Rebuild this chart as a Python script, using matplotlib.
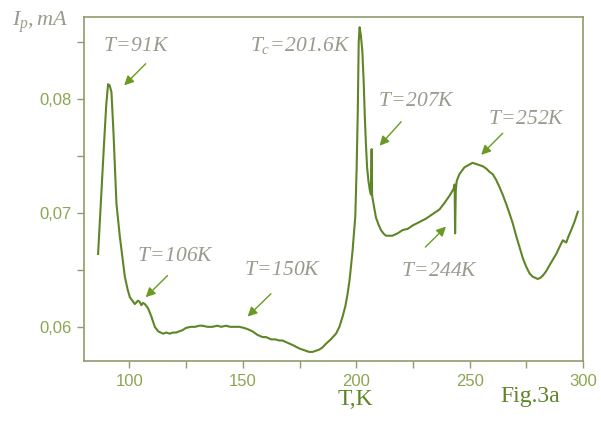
import numpy as np
import matplotlib.pyplot as plt
from matplotlib.ticker import FixedLocator, FuncFormatter

# Temperature (K) and peak current (mA), ten points per row
temp = [86.2, 87.5, 88.8, 89.8, 90.6, 91.3, 92.1, 93.0, 94.3, 95.8,
        97.0, 98.0, 99.2, 100.2, 101.3, 102.4, 103.8, 104.5, 105.3, 106.0,
        106.8, 107.6, 108.3, 109.7, 111.2, 112.7, 114.9, 116.3, 117.8, 119.2,
        120.7, 121.9, 123.4, 124.9, 127.0, 129.0, 130.8, 132.2, 134.4, 136.6,
        138.8, 140.5, 142.5, 144.5, 146.5, 148.5, 150.6, 152.1, 154.3, 156.4,
        158.7, 160.2, 162.5, 164.3, 166.1, 167.5, 169.8, 172.0, 174.9, 176.3,
        177.8, 179.2, 180.8, 182.3, 183.7, 185.2, 186.6, 188.8, 191.1, 192.6,
        194.0, 195.2, 196.2, 197.0, 197.7, 198.4, 199.0, 199.6, 200.2, 200.7,
        201.1, 201.5, 202.1, 202.7, 203.3, 203.8, 204.3, 204.8, 205.4, 206.0,
        206.5, 206.8, 207.0, 207.2, 207.9, 208.7, 209.8, 210.9, 212.0, 213.1,
        214.5, 216.0, 218.2, 220.5, 222.7, 224.9, 227.8, 230.8, 233.7, 236.7,
        239.0, 241.1, 242.9, 243.4, 243.6, 243.9, 244.3, 245.5, 246.6, 247.7,
        249.5, 251.3, 252.8, 254.3, 255.8, 257.3, 258.8, 260.2, 261.7, 263.1,
        264.6, 266.1, 267.5, 269.0, 270.5, 272.0, 273.5, 274.9, 276.4, 277.8,
        279.0, 280.0, 281.2, 282.3, 283.8, 285.2, 286.7, 288.2, 289.6, 291.1,
        292.6, 293.7, 294.8, 296.2, 297.7]
current = [0.0664, 0.0712, 0.0760, 0.0795, 0.0813, 0.0812, 0.0806, 0.0770, 0.0708, 0.0679,
           0.0660, 0.0644, 0.0633, 0.0626, 0.0623, 0.0620, 0.0623, 0.0622, 0.0619, 0.0621,
           0.0620, 0.0618, 0.0616, 0.0609, 0.0600, 0.0596, 0.0594, 0.0595, 0.0594, 0.0595,
           0.0595, 0.0596, 0.0597, 0.0599, 0.0600, 0.0600, 0.0601, 0.0601, 0.0600, 0.0600,
           0.0601, 0.0600, 0.0601, 0.0600, 0.0600, 0.0600, 0.0599, 0.0598, 0.0596, 0.0593,
           0.0591, 0.0591, 0.0589, 0.0589, 0.0588, 0.0588, 0.0586, 0.0584, 0.0581, 0.0580,
           0.0579, 0.0578, 0.0578, 0.0579, 0.0580, 0.0582, 0.0585, 0.0589, 0.0594, 0.0600,
           0.0609, 0.0618, 0.0629, 0.0640, 0.0653, 0.0667, 0.0682, 0.0697, 0.0740, 0.0790,
           0.0850, 0.0863, 0.0855, 0.0842, 0.0815, 0.0784, 0.0760, 0.0740, 0.0728, 0.0720,
           0.0716, 0.0756, 0.0716, 0.0713, 0.0705, 0.0696, 0.0690, 0.0685, 0.0682, 0.0680,
           0.0680, 0.0680, 0.0682, 0.0685, 0.0686, 0.0689, 0.0692, 0.0695, 0.0699, 0.0703,
           0.0709, 0.0715, 0.0721, 0.0725, 0.0682, 0.0720, 0.0728, 0.0734, 0.0737, 0.0740,
           0.0742, 0.0744, 0.0743, 0.0742, 0.0741, 0.0739, 0.0736, 0.0734, 0.0729, 0.0723,
           0.0716, 0.0708, 0.0700, 0.0691, 0.0680, 0.0670, 0.0660, 0.0653, 0.0647, 0.0644,
           0.0643, 0.0642, 0.0643, 0.0645, 0.0649, 0.0654, 0.0659, 0.0664, 0.0670, 0.0676,
           0.0674, 0.0680, 0.0685, 0.0692, 0.0701]

# Labels: text, label position, arrow tail and head (None -> plain text)
ann_text = [r'$T\!=\!91K$', r'$T_c\!=\!201.6K$', r'$T\!=\!207K$', r'$T\!=\!252K$',
            r'$T\!=\!106K$', r'$T\!=\!150K$', r'$T\!=\!244K$']
ann_pos = [(102.9, 0.0847), (175.5, 0.0847), (226.4, 0.0799), (274.9, 0.0783),
           (120.5, 0.0663), (167.5, 0.0651), (236.7, 0.0650)]
ann_tail = [(107.2, 0.0831), None, (219.8, 0.0780), (264.6, 0.0770),
            (116.8, 0.0645), (162.4, 0.0629), (230.5, 0.0670)]
ann_head = [(97.7, 0.0812), None, (210.3, 0.0759), (255.1, 0.0751),
            (107.2, 0.0626), (152.1, 0.0609), (239.6, 0.0688)]

x_ticks = [100, 150, 200, 250, 300]
y_ticks = [0.06, 0.07, 0.08]

LINE_C = '#5f8527'
AXIS_C = '#8f9c6c'
TICK_C = '#8aa650'
TEXT_C = '#9a9b8c'
ARROW_C = '#6b9a22'

# all math labels are set in italic serif, digits included
plt.rcParams['mathtext.fontset'] = 'custom'
plt.rcParams['mathtext.it'] = 'Liberation Serif:italic'
plt.rcParams['mathtext.rm'] = 'Liberation Serif:italic'

fig = plt.figure(figsize=(6.01, 4.21), dpi=100)
ax = fig.add_axes([0.1398, 0.1425, 0.8303, 0.8171])

ax.plot(temp, current, color=LINE_C, lw=1.5)

ax.set_xlim(80, 300)
ax.set_ylim(0.057, 0.0872)

ax.xaxis.set_major_locator(FixedLocator(x_ticks))
ax.xaxis.set_minor_locator(FixedLocator([125, 175, 225, 275]))
ax.yaxis.set_major_locator(FixedLocator(y_ticks))
ax.yaxis.set_minor_locator(FixedLocator([0.065, 0.075, 0.085]))
ax.yaxis.set_major_formatter(FuncFormatter(lambda v, p: f'{v:.2f}'.replace('.', ',')))

for s in ax.spines.values():
    s.set_color(AXIS_C)
    s.set_linewidth(1.2)
ax.tick_params(which='both', direction='out', color=AXIS_C, width=1.0)
ax.tick_params(which='major', length=5, labelsize=12, labelcolor=TICK_C, pad=4)
ax.tick_params(which='minor', length=5)
for lab in ax.get_xticklabels() + ax.get_yticklabels():
    lab.set_family('Liberation Sans')

for txt, pos, tail, head in zip(ann_text, ann_pos, ann_tail, ann_head):
    ax.text(pos[0], pos[1], txt, color=TEXT_C, fontsize=15.5, ha='center', va='center')
    if tail is not None:
        ax.annotate('', xy=head, xytext=tail,
                    arrowprops=dict(arrowstyle='-|>', color=ARROW_C, lw=1.0,
                                    mutation_scale=14, shrinkA=0, shrinkB=0))

fig.text(0.067, 0.948, r'$I_p,mA$', color=TEXT_C, fontsize=16, ha='center', va='center')
fig.text(0.591, 0.05, 'T,K', color=LINE_C, fontsize=17, family='Liberation Serif',
         ha='center', va='center')
fig.text(0.882, 0.058, 'Fig.3a', color=LINE_C, fontsize=17, family='Liberation Serif',
         ha='center', va='center')

fig.savefig('out.png', dpi=100)
